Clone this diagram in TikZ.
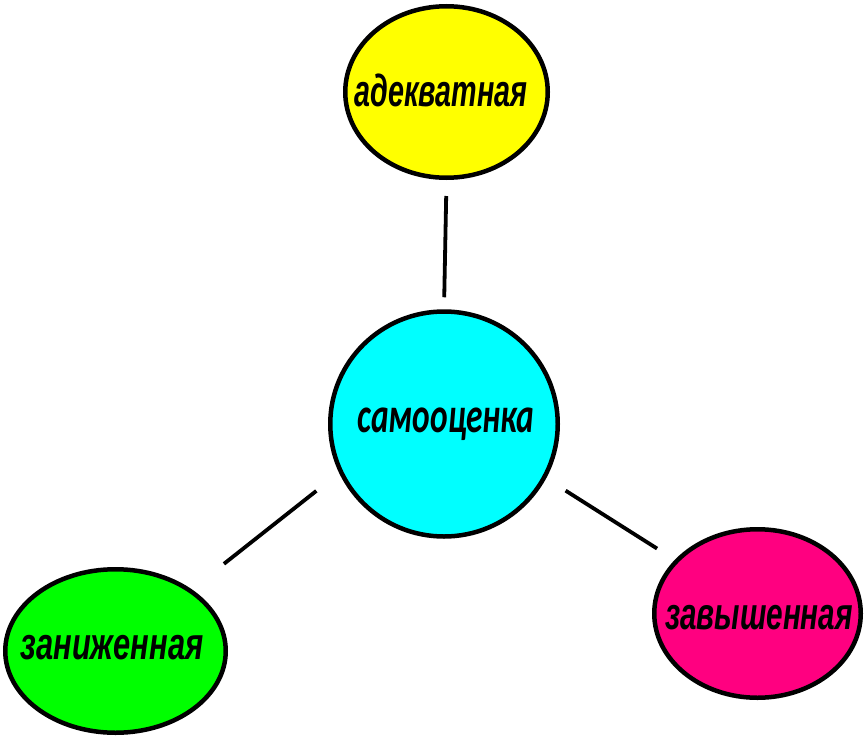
\documentclass[tikz,border=0pt]{standalone}
\usepackage{fontspec}
\setmainfont{Liberation Sans}
\newfontfamily\calfont{Carlito}
\usepackage{graphicx}
\usetikzlibrary{shapes.geometric}
\newcommand\bubtext[2]{\resizebox{#1}{\height}{\bfseries\itshape\fontsize{45}{45}\selectfont #2}}
\newcommand\bubtextc[2]{\resizebox{#1}{\height}{\calfont\bfseries\itshape\fontsize{50}{50}\selectfont #2}}
\definecolor{bubyellow}{RGB}{255,255,0}
\definecolor{bubcyan}{RGB}{0,255,255}
\definecolor{bubgreen}{RGB}{0,255,0}
\definecolor{bubpink}{RGB}{255,0,128}
\begin{document}
\begin{tikzpicture}[x=1pt,y=-1pt,
  bub/.style={ellipse, draw=black, line width=4.5pt, inner sep=0pt},
  lbl/.style={inner sep=0pt, text=black},
  link/.style={line width=3.8pt, draw=black}]
\useasboundingbox (0,0) rectangle (864,736);
\node[bub, fill=bubyellow, minimum width=202.5pt, minimum height=171.5pt] (ad) at (446.5,92) {};
\node[bub, fill=bubcyan, minimum width=227.5pt, minimum height=225pt] (so) at (444,424) {};
\node[bub, fill=bubgreen, minimum width=220.5pt, minimum height=163.5pt] (zn) at (115.5,651) {};
\node[bub, fill=bubpink, minimum width=206.5pt, minimum height=168.5pt] (zv) at (757.5,613.5) {};
\node[lbl] (adt) at (441,90) {\bubtext{173pt}{адекватная}};
\node[lbl] (sot) at (446,424) {\bubtextc{177pt}{самооценка}};
\node[lbl] (znt) at (112,648) {\bubtext{183pt}{заниженная}};
\node[lbl] (zvt) at (759,618) {\bubtext{188pt}{завышенная}};
\draw[link, shorten <=12pt, shorten >=16pt] (so.90) -- (ad.270);
\draw[link, shorten <=29pt, shorten >=41pt] (so.205) -- (zn.39.7);
\draw[link, shorten <=23pt, shorten >=21pt] (so.332.3) -- (zv.147.6);
\end{tikzpicture}
\end{document}
